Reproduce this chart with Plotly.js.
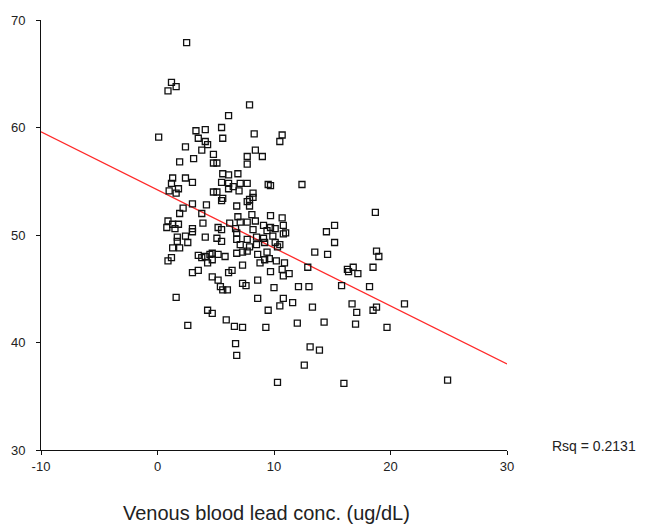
<!DOCTYPE html>
<html>
<head>
<meta charset="utf-8">
<script src="https://cdn.plot.ly/plotly-3.0.1.min.js"></script>
<style>html,body{margin:0;padding:0;background:#fff;}#chart{width:647px;height:527px;}</style>
</head>
<body>
<div id="chart"></div>
<script>
// Venous blood lead concentration (ug/dL)
const leadX = [
2.5,1.2,1.6,0.9,7.9,6.1,3.3,4.1,5.5,8.3,0.1,10.7,10.5,3.5,4.1,4.3,5.6,2.4,3.8,4.8,
7.7,8.4,9.0,1.9,3.1,4.8,5.1,7.7,5.6,6.1,6.9,1.3,2.4,3.0,1.2,1.8,1.0,1.6,5.5,6.1,
6.5,7.1,7.7,7.0,6.1,4.8,5.1,8.2,8.2,9.5,7.9,7.7,5.6,5.5,3.0,4.2,6.8,2.2,1.9,3.8,
7.9,8.1,0.9,1.3,1.8,0.8,1.5,3.0,3.9,3.0,5.2,5.5,6.2,6.9,7.1,7.7,8.4,9.1,6.7,6.8,
8.2,9.4,1.7,2.4,4.1,5.1,6.8,8.5,9.1,1.7,2.6,1.9,1.3,5.5,7.7,7.1,7.9,8.5,9.2,0.9,
1.2,3.5,4.1,4.5,4.7,5.2,5.8,3.8,4.3,4.7,6.8,7.3,7.7,8.6,9.4,8.8,7.3,3.0,3.5,4.7,
5.2,5.4,5.6,6.0,6.1,6.4,7.3,7.6,8.6,1.6,8.6,4.3,4.7,5.9,6.6,7.3,2.6,9.3,9.5,6.7,
6.8,9.7,12.4,18.7,9.7,10.7,10.8,9.7,10.1,10.8,11.0,9.9,10.1,10.3,10.5,15.2,14.5,15.2,9.6,9.2,
10.2,10.9,9.7,10.7,10.8,11.3,13.5,14.6,12.9,18.8,19.0,18.5,16.3,16.4,16.8,17.2,15.8,18.2,10.0,12.1,
13.0,10.8,10.5,11.6,13.3,16.7,17.1,18.5,18.8,12.0,14.3,17.0,19.7,13.1,13.9,12.6,10.3,16.0,21.2,24.9
];
// Outcome score
const scoreY = [
67.9,64.2,63.8,63.4,62.1,61.1,59.7,59.8,60.0,59.4,59.1,59.3,58.7,59.0,58.7,58.4,59.0,58.2,57.9,57.5,
57.3,57.9,57.3,56.8,57.1,56.7,56.7,56.6,55.7,55.6,55.7,55.3,55.3,54.9,54.8,54.3,54.1,53.9,54.9,54.8,
54.5,54.8,54.8,54.1,54.3,54.0,54.0,53.9,53.5,54.7,53.3,53.1,53.4,53.2,52.9,52.8,52.7,52.5,52.0,52.0,
52.7,51.9,51.3,51.0,51.0,50.7,50.6,50.6,51.1,50.3,50.7,50.5,51.1,51.7,51.2,51.2,51.3,50.9,50.6,50.2,
50.5,50.4,49.8,49.9,49.8,49.7,49.6,49.8,49.7,49.4,49.3,48.8,48.8,49.4,49.6,49.1,48.9,49.1,49.3,47.6,
47.9,48.1,48.0,48.2,48.3,48.2,48.0,47.9,47.4,47.7,48.3,48.4,48.5,48.2,48.4,47.4,47.2,46.5,46.7,46.1,
45.8,45.2,44.9,44.9,46.5,46.7,45.5,45.3,45.8,44.2,44.1,43.0,42.7,42.1,41.5,41.4,41.6,41.4,43.0,39.9,
38.8,54.6,54.7,52.1,51.8,51.6,50.9,50.7,50.6,50.1,50.2,49.9,49.3,48.9,49.1,50.9,50.3,49.3,47.8,47.7,
47.6,47.4,46.6,46.8,46.2,46.4,48.4,48.2,47.0,48.5,48.0,47.0,46.8,46.6,47.0,46.4,45.3,45.2,45.1,45.2,
45.2,44.1,43.4,43.7,43.3,43.6,42.8,43.0,43.3,41.8,41.9,41.7,41.4,39.6,39.3,37.9,36.3,36.2,43.6,36.5
];
// Linear fit line endpoints
const fitX = [-10, 30];
const fitY = [59.6, 38.0];
const xTicks = [-10, 0, 10, 20, 30];
const yTicks = [30, 40, 50, 60, 70];
const xTitle = 'Venous blood lead conc. (ug/dL)';
const rsqLabel = 'Rsq = 0.2131';

const font = 'Liberation Sans, Arial, Helvetica, sans-serif';

const traces = [
  {
    x: fitX, y: fitY, type: 'scatter', mode: 'lines',
    line: {color: '#ff2a2a', width: 1.3}, hoverinfo: 'skip', showlegend: false
  },
  {
    x: leadX, y: scoreY, type: 'scatter', mode: 'markers',
    marker: {symbol: 'square-open', size: 6, color: '#111', line: {width: 1.3, color: '#111'}},
    showlegend: false
  }
];

const layout = {
  width: 647, height: 527,
  margin: {l: 41, r: 140, t: 20, b: 77},
  paper_bgcolor: '#fff', plot_bgcolor: '#fff',
  font: {family: font, size: 13, color: '#222'},
  showlegend: false,
  xaxis: {
    range: [-10, 30], tickvals: xTicks, ticktext: xTicks.map(String),
    showgrid: false, zeroline: false, showline: true, linecolor: '#111', linewidth: 1,
    ticks: 'outside', ticklen: 4, tickcolor: '#111', tickwidth: 1,
    tickfont: {family: font, size: 13, color: '#222'}
  },
  yaxis: {
    range: [30, 70], tickvals: yTicks, ticktext: yTicks.map(String),
    showgrid: false, zeroline: false, showline: true, linecolor: '#111', linewidth: 1,
    ticks: 'outside', ticklen: 4, tickcolor: '#111', tickwidth: 1, ticklabelstandoff: 8,
    tickfont: {family: font, size: 13, color: '#222'}
  },
  annotations: [
    {
      text: rsqLabel, xref: 'paper', yref: 'paper', x: 1.093, y: 0.01,
      xanchor: 'left', yanchor: 'middle', showarrow: false,
      font: {family: font, size: 14, color: '#222'}
    },
    {
      text: xTitle, xref: 'paper', yref: 'paper', x: 0.483, y: -0.146,
      xanchor: 'center', yanchor: 'middle', showarrow: false,
      font: {family: font, size: 20, color: '#222'}
    }
  ]
};

Plotly.newPlot('chart', traces, layout, {displayModeBar: false, staticPlot: true});
</script>
</body>
</html>
